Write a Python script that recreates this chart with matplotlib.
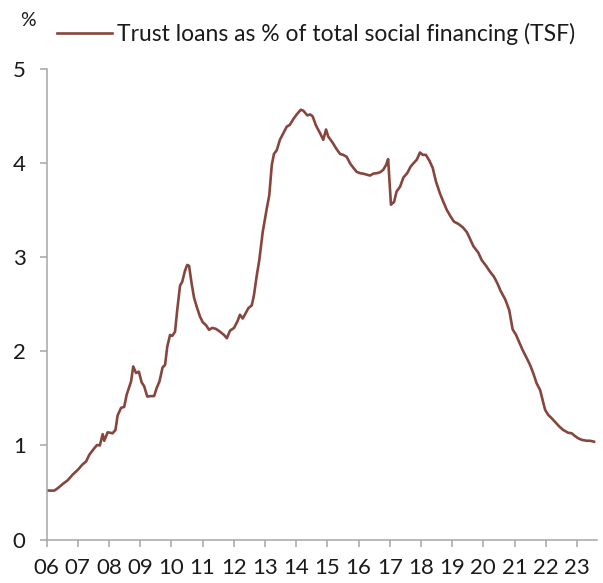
import matplotlib
matplotlib.use("Agg")
import matplotlib.pyplot as plt

plt.rcParams['font.family'] = ['Lato', 'DejaVu Sans']

# Decimal years (position along the time axis) and trust-loan share (%)
years = [2006.00, 2006.25, 2006.36, 2006.52, 2006.68, 2006.84, 2007.00, 2007.16, 2007.27, 2007.37,
         2007.53, 2007.62, 2007.71, 2007.80, 2007.85, 2007.96, 2008.12, 2008.21, 2008.28, 2008.39,
         2008.49, 2008.57, 2008.71, 2008.78, 2008.87, 2008.96, 2009.05, 2009.13, 2009.23, 2009.34,
         2009.45, 2009.53, 2009.62, 2009.72, 2009.80, 2009.87, 2009.96, 2010.03, 2010.12, 2010.19,
         2010.28, 2010.35, 2010.44, 2010.51, 2010.57, 2010.65, 2010.73, 2010.81, 2010.92, 2011.01,
         2011.11, 2011.21, 2011.31, 2011.43, 2011.56, 2011.69, 2011.78, 2011.88, 2012.01, 2012.12,
         2012.20, 2012.29, 2012.39, 2012.47, 2012.58, 2012.65, 2012.74, 2012.82, 2012.93, 2013.06,
         2013.14, 2013.22, 2013.29, 2013.38, 2013.48, 2013.59, 2013.70, 2013.80, 2013.91, 2014.02,
         2014.15, 2014.23, 2014.36, 2014.45, 2014.53, 2014.64, 2014.77, 2014.87, 2014.96, 2015.03,
         2015.17, 2015.30, 2015.41, 2015.51, 2015.62, 2015.73, 2015.83, 2015.94, 2016.05, 2016.15,
         2016.26, 2016.37, 2016.47, 2016.58, 2016.69, 2016.79, 2016.88, 2016.95, 2017.04, 2017.14,
         2017.22, 2017.33, 2017.44, 2017.56, 2017.67, 2017.76, 2017.87, 2017.97, 2018.06, 2018.16,
         2018.27, 2018.38, 2018.48, 2018.61, 2018.72, 2018.83, 2018.96, 2019.06, 2019.20, 2019.34,
         2019.47, 2019.57, 2019.68, 2019.84, 2019.95, 2020.09, 2020.21, 2020.34, 2020.45, 2020.56,
         2020.70, 2020.83, 2020.94, 2021.05, 2021.15, 2021.26, 2021.39, 2021.50, 2021.60, 2021.71,
         2021.82, 2021.90, 2021.98, 2022.08, 2022.19, 2022.33, 2022.44, 2022.56, 2022.72, 2022.83,
         2022.94, 2023.04, 2023.15, 2023.31, 2023.42, 2023.55]
share = [0.52, 0.52, 0.545, 0.59, 0.63, 0.69, 0.74, 0.80, 0.83, 0.90,
         0.97, 1.005, 1.00, 1.12, 1.05, 1.14, 1.13, 1.165, 1.32, 1.40,
         1.41, 1.54, 1.68, 1.84, 1.77, 1.785, 1.67, 1.63, 1.52, 1.525,
         1.525, 1.61, 1.68, 1.83, 1.856, 2.05, 2.175, 2.165, 2.21, 2.44,
         2.70, 2.74, 2.86, 2.92, 2.91, 2.725, 2.57, 2.48, 2.37, 2.31,
         2.28, 2.23, 2.25, 2.24, 2.21, 2.175, 2.14, 2.22, 2.25, 2.32,
         2.39, 2.35, 2.41, 2.46, 2.49, 2.60, 2.81, 2.97, 3.27, 3.52,
         3.66, 3.98, 4.10, 4.14, 4.25, 4.32, 4.39, 4.41, 4.47, 4.52,
         4.57, 4.56, 4.51, 4.52, 4.50, 4.40, 4.32, 4.25, 4.36, 4.285,
         4.22, 4.15, 4.10, 4.09, 4.07, 4.00, 3.955, 3.91, 3.895, 3.89,
         3.88, 3.87, 3.89, 3.895, 3.905, 3.93, 3.98, 4.045, 3.56, 3.59,
         3.70, 3.75, 3.85, 3.895, 3.965, 4.00, 4.04, 4.115, 4.09, 4.09,
         4.03, 3.95, 3.81, 3.68, 3.59, 3.505, 3.43, 3.38, 3.356, 3.32,
         3.27, 3.20, 3.12, 3.05, 2.97, 2.91, 2.85, 2.795, 2.725, 2.64,
         2.555, 2.44, 2.235, 2.175, 2.10, 2.015, 1.93, 1.855, 1.77, 1.66,
         1.59, 1.485, 1.38, 1.325, 1.29, 1.24, 1.20, 1.165, 1.135, 1.13,
         1.10, 1.077, 1.06, 1.05, 1.05, 1.04]

tick_years = list(range(2006, 2024))
tick_labels = ['06', '07', '08', '09', '10', '11', '12', '13', '14', '15',
               '16', '17', '18', '19', '20', '21', '22', '23']
y_ticks = [0, 1, 2, 3, 4, 5]
series_name = 'Trust loans as % of total social financing (TSF)'

W, H = 603, 583
fig = plt.figure(figsize=(W / 100, H / 100), dpi=100)
left, right, bottom, top = 46.5, 597, 539.5, 69.3
ax = fig.add_axes([left / W, 1 - bottom / H, (right - left) / W, (bottom - top) / H])

line_color = '#87463D'
ax.plot(years, share, color=line_color, lw=1.9, solid_joinstyle='round', label=series_name)

ax.set_xlim(2006, 2006 + (right - left) / 31.2)
ax.set_ylim(0, 5)
ax.set_xticks(tick_years)
ax.set_xticklabels(tick_labels)
ax.set_yticks(y_ticks)

spine_color = '#A6A6A6'
for s in ['top', 'right']:
    ax.spines[s].set_visible(False)
for s in ['left', 'bottom']:
    ax.spines[s].set_color(spine_color)
    ax.spines[s].set_linewidth(1.1)
ax.tick_params(axis='both', direction='out', length=5, width=1.1, color=spine_color,
               labelsize=16, labelcolor='#1a1a1a')
ax.tick_params(axis='y', pad=10)
ax.tick_params(axis='x', pad=8)

fig.text(28 / W, 1 - 20 / H, '%', ha='center', va='center', fontsize=14, color='#1a1a1a')
fig.legend(loc='center left', bbox_to_anchor=(57 / W, 1 - 34 / H), frameon=False,
           borderpad=0, borderaxespad=0, handlelength=2.4, handletextpad=0.2,
           fontsize=16.5, labelcolor='#1a1a1a')

fig.savefig('out.png', dpi=100)
